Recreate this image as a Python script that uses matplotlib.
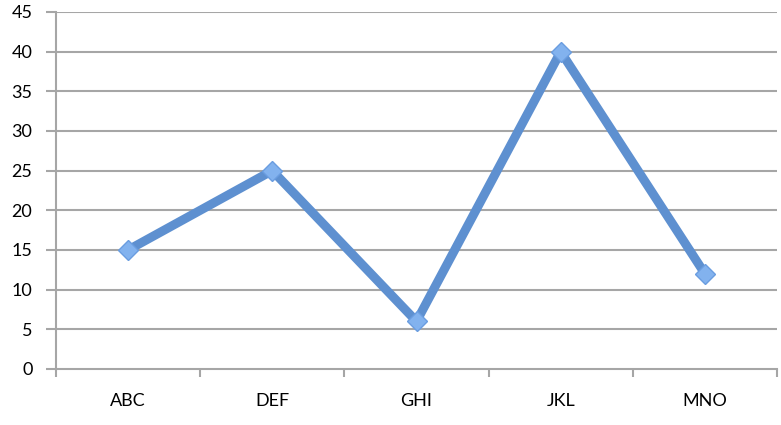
import matplotlib.pyplot as plt
import numpy as np

categorias = ["ABC", "DEF", "GHI", "JKL", "MNO"]
valores = [15, 25, 6, 40, 12]
yticks = list(range(0, 50, 5))

plt.rcParams['font.family'] = ['Lato', 'DejaVu Sans']

fig = plt.figure(figsize=(7.81, 4.25), dpi=100)
ax = fig.add_axes([0.0717, 0.1318, 0.9232, 0.8400])

x = np.arange(len(categorias))
cinza = '#a6a6a6'

# grade horizontal
for y in yticks[1:]:
    ax.axhline(y, color=cinza, lw=1.5, zorder=1)

ax.plot(x, valores, color='#5e90d0', lw=6.5, solid_capstyle='round',
        solid_joinstyle='round', zorder=3)
ax.plot(x, valores, linestyle='none', marker='D', markersize=10,
        markerfacecolor='#82b2ee', markeredgecolor='#6a9de0',
        markeredgewidth=1, zorder=4)

ax.set_xlim(-0.5, len(categorias) - 0.5)
ax.set_ylim(0, 45)
ax.set_yticks(yticks)
ax.set_xticks(x)
ax.set_xticklabels(categorias)
ax.set_xticks(np.arange(-0.5, len(categorias)), minor=True)

ax.tick_params(axis='x', which='major', length=0, pad=17, labelsize=13)
ax.tick_params(axis='x', which='minor', length=6, width=1.5, color=cinza,
               direction='out')
ax.tick_params(axis='y', length=7, width=1.5, color=cinza, pad=10,
               labelsize=13)

for lado in ['top', 'right']:
    ax.spines[lado].set_visible(False)
for lado in ['left', 'bottom']:
    ax.spines[lado].set_color(cinza)
    ax.spines[lado].set_linewidth(1.5)

fig.savefig('out.png', dpi=100)
